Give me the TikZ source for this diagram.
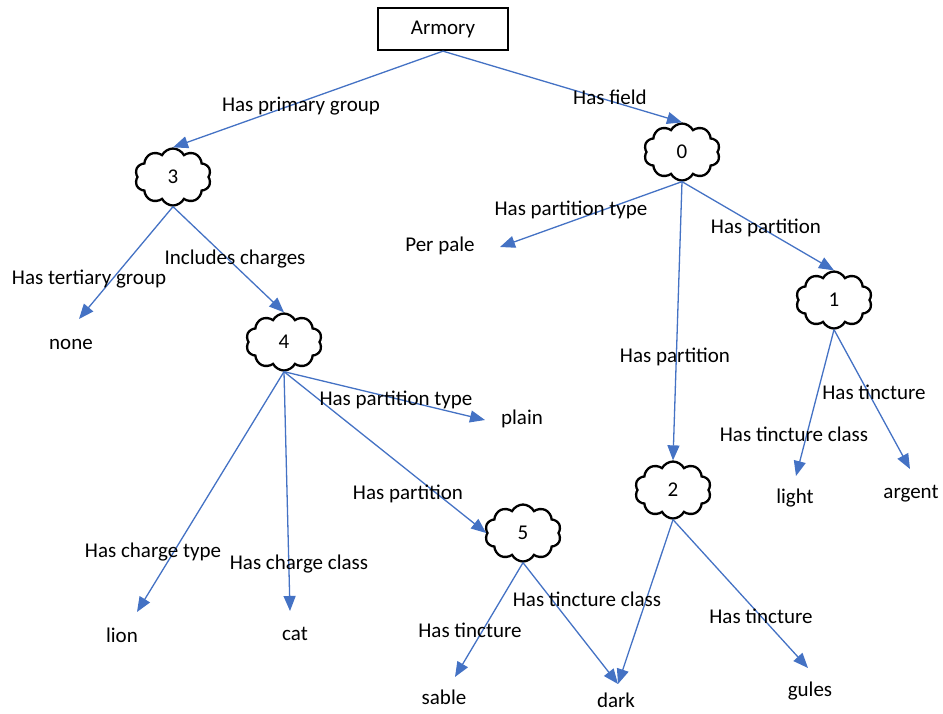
\documentclass[tikz,border=0pt]{standalone}
\usepackage{fontspec}
\setmainfont{Carlito}
\usetikzlibrary{shapes.symbols,arrows.meta}
\definecolor{arrowblue}{HTML}{4472C4}
\begin{document}
\begin{tikzpicture}[x=1pt,y=-1pt,
  every node/.style={font=\fontsize{21}{25}\selectfont},
  cl/.style={cloud, cloud puffs=10, cloud puff arc=125, cloud ignores aspect, draw, line width=2.3pt,
    minimum width=76pt, minimum height=57pt, inner sep=0pt},
  box/.style={draw, line width=2.3pt, minimum width=130pt, minimum height=42pt},
  rel/.style={draw=arrowblue, line width=1.3pt, -{Triangle[length=15pt,width=12pt]}},
  lab/.style={inner sep=1pt},
  leaf/.style={inner sep=1pt}]
\useasboundingbox (0,0) rectangle (943,713);
% nodes
\node[box] (armory) at (443,29) {Armory};
\node[cl] (c3) at (173,177) {3};
\node[cl] (c0) at (682,152) {0};
\node[cl] (c1) at (834,300) {1};
\node[cl] (c4) at (284,342) {4};
\node[cl] (c5) at (523,533) {5};
\node[cl] (c2) at (673,490) {2};
% leaves
\node[leaf] (none) at (71,344) {none};
\node[leaf] (perpale) at (440,246) {Per pale};
\node[leaf] (light) at (795,498) {light};
\node[leaf] (argent) at (911,494) {argent};
\node[leaf] (lion) at (122,635) {lion};
\node[leaf] (cat) at (295,634) {cat};
\node[leaf] (plain) at (522,419) {plain};
\node[leaf] (sable) at (444,697) {sable};
\node[leaf] (dark) at (616,700) {dark};
\node[leaf] (gules) at (810,691) {gules};
% arrow tips
\coordinate (tnone) at (79,319);
\coordinate (tperpale) at (500,247);
\coordinate (tlight) at (796,476);
\coordinate (targent) at (910,469);
\coordinate (tlion) at (137,612);
\coordinate (tcat) at (290,611);
\coordinate (tplain) at (485,420);
\coordinate (tsable) at (455,677);
\coordinate (tdark) at (618,684);
\coordinate (tgules) at (808,668);
% connectors
\draw[rel] (armory.south) -- (c3.north);
\draw[rel] (armory.south) -- (c0.north);
\draw[rel] (c3.south) -- (tnone);
\draw[rel] (c3.south) -- (c4.north);
\draw[rel] (c0.south) -- (tperpale);
\draw[rel] (c0.south) -- (c1.north);
\draw[rel] (c0.south) -- (c2.north);
\draw[rel] (c1.south) -- (tlight);
\draw[rel] (c1.south) -- (targent);
\draw[rel] (c4.south) -- (tlion);
\draw[rel] (c4.south) -- (tcat);
\draw[rel] (c4.south) -- (tplain);
\draw[rel] (c4.south) -- (c5.west);
\draw[rel] (c5.south) -- (tsable);
\draw[rel] (c5.south) -- (tdark);
\draw[rel] (c2.south) -- (tdark);
\draw[rel] (c2.south) -- (tgules);
% labels
\node[lab] (l1) at (301,106) {Has primary group};
\node[lab] (l2) at (610,97) {Has field};
\node[lab] (l3) at (89,279) {Has tertiary group};
\node[lab] (l4) at (235,259) {Includes charges};
\node[lab] (l5) at (571,210) {Has partition type};
\node[lab] (l6) at (766,228) {Has partition};
\node[lab] (l7) at (675,357) {Has partition};
\node[lab] (l8) at (794,434) {Has tincture class};
\node[lab] (l9) at (874,392) {Has tincture};
\node[lab] (l10) at (153,552) {Has charge type};
\node[lab] (l11) at (299,564) {Has charge class};
\node[lab] (l12) at (396,400) {Has partition type};
\node[lab] (l13) at (408,494) {Has partition};
\node[lab] (l14) at (470,630) {Has tincture};
\node[lab] (l15) at (587,599) {Has tincture class};
\node[lab] (l16) at (761,616) {Has tincture};
\end{tikzpicture}
\end{document}
